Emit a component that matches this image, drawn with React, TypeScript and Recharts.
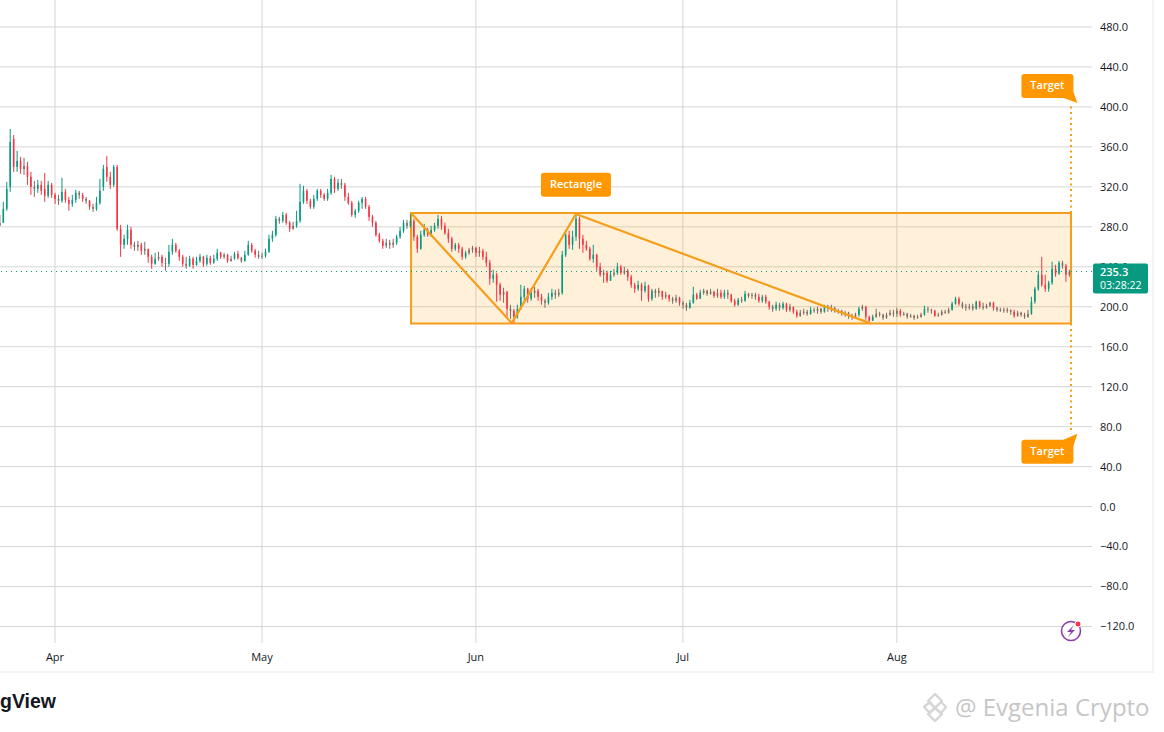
import React from 'react';
import {
  ComposedChart,
  Bar,
  XAxis,
  YAxis,
  CartesianGrid,
  ReferenceArea,
  ReferenceLine,
  ReferenceDot,
} from 'recharts';

// 12h candles, first one sits 8 days before Apr 1
const opens = [
  281, 284, 298, 320, 368, 340, 346, 338, 341, 330,
  320, 318, 322, 318, 311, 322, 312, 308, 306, 315,
  307, 303, 307, 314, 312, 308, 306, 300, 298, 304,
  320, 340, 330, 322, 340, 278, 262, 268, 277, 262,
  260, 262, 256, 258, 250, 243, 248, 250, 244, 243,
  255, 262, 256, 250, 243, 241, 248, 242, 246, 250,
  243, 249, 244, 248, 254, 250, 252, 246, 248, 253,
  249, 246, 252, 262, 256, 252, 250, 251, 255, 268,
  272, 288, 286, 292, 284, 278, 281, 286, 305, 316,
  306, 300, 308, 316, 312, 308, 314, 328, 318, 324,
  322, 310, 304, 292, 296, 304, 308, 300, 290, 284,
  272, 266, 261, 264, 262, 264, 270, 276, 284, 281,
  286, 270, 258, 272, 277, 272, 277, 281, 288, 281,
  274, 268, 258, 262, 258, 250, 254, 257, 259, 254,
  256, 250, 244, 228, 232, 222, 212, 215, 198, 196,
  190, 198, 210, 218, 208, 214, 216, 210, 206, 204,
  210, 214, 212, 214, 252, 272, 262, 270, 288, 268,
  262, 258, 248, 252, 240, 232, 234, 226, 232, 234,
  240, 234, 236, 230, 222, 218, 222, 216, 221, 208,
  216, 214, 216, 210, 212, 208, 206, 209, 204, 202,
  199, 204, 212, 208, 214, 216, 213, 215, 211, 214,
  210, 214, 212, 206, 202, 207, 206, 213, 211, 212,
  210, 206, 210, 205, 200, 198, 202, 199, 203, 197,
  200, 195, 191, 194, 195, 193, 197, 196, 198, 195,
  200, 198, 199, 196, 196, 193, 194, 191, 190, 192,
  198, 200, 190, 186, 190, 193, 192, 189, 192, 194,
  193, 196, 192, 193, 190, 191, 189, 190, 192, 198,
  197, 196, 191, 192, 195, 194, 197, 203, 208, 203,
  200, 199, 200, 198, 205, 200, 199, 201, 204, 199,
  197, 197, 196, 197, 195, 191, 194, 192, 190, 193,
  205, 218, 232, 222, 218, 224, 238, 233, 244, 241, 232,
];
const highs = [
  292, 305, 325, 378, 372, 356, 350, 349, 345, 335,
  326, 327, 326, 334, 326, 324, 314, 312, 329, 318,
  310, 312, 317, 316, 314, 310, 307, 303, 310, 328,
  342, 351, 335, 342, 342, 282, 272, 282, 280, 265,
  266, 264, 265, 258, 252, 254, 255, 252, 249, 262,
  268, 264, 258, 252, 250, 251, 250, 250, 253, 251,
  252, 251, 252, 258, 255, 254, 253, 251, 255, 256,
  250, 256, 266, 264, 258, 256, 254, 258, 272, 276,
  291, 290, 295, 294, 286, 285, 296, 323, 321, 318,
  308, 312, 318, 318, 314, 318, 332, 330, 328, 328,
  324, 314, 306, 298, 306, 310, 310, 302, 292, 286,
  274, 268, 268, 267, 268, 272, 280, 287, 287, 293,
  288, 272, 276, 283, 279, 281, 284, 292, 291, 284,
  278, 270, 264, 264, 260, 256, 259, 261, 260, 260,
  258, 255, 247, 237, 234, 224, 219, 216, 202, 198,
  202, 222, 221, 219, 219, 220, 218, 213, 208, 214,
  218, 217, 218, 256, 277, 276, 276, 293, 290, 272,
  266, 260, 262, 253, 244, 237, 236, 236, 238, 244,
  242, 240, 238, 232, 224, 226, 224, 225, 222, 218,
  218, 219, 215, 215, 212, 210, 212, 210, 206, 204,
  207, 220, 214, 217, 218, 217, 218, 216, 218, 217,
  217, 217, 213, 208, 209, 210, 216, 214, 214, 214,
  213, 212, 212, 206, 202, 205, 204, 205, 204, 203,
  200, 197, 197, 198, 197, 200, 199, 200, 199, 202,
  202, 202, 200, 198, 197, 196, 195, 193, 194, 200,
  202, 201, 191, 192, 198, 195, 193, 194, 197, 197,
  199, 198, 195, 194, 193, 192, 192, 194, 201, 200,
  198, 197, 194, 197, 197, 199, 205, 210, 210, 205,
  203, 203, 203, 206, 206, 204, 203, 205, 205, 200,
  199, 199, 199, 197, 197, 196, 195, 194, 197, 210,
  220, 236, 250, 232, 226, 245, 242, 246, 246, 243, 237,
];
const lows = [
  281, 284, 296, 315, 335, 335, 333, 332, 322, 312,
  310, 314, 312, 305, 309, 309, 303, 302, 304, 304,
  296, 300, 304, 308, 305, 303, 297, 295, 296, 302,
  316, 325, 318, 320, 276, 250, 258, 262, 258, 256,
  256, 252, 252, 244, 238, 242, 246, 240, 236, 240,
  252, 254, 246, 240, 238, 240, 238, 241, 244, 240,
  241, 242, 243, 246, 248, 248, 244, 245, 247, 247,
  244, 245, 251, 254, 249, 248, 248, 249, 254, 265,
  270, 283, 284, 282, 275, 277, 279, 284, 303, 303,
  298, 298, 306, 309, 306, 306, 312, 314, 316, 318,
  306, 302, 290, 289, 294, 298, 298, 286, 280, 270,
  264, 258, 259, 258, 259, 262, 268, 274, 278, 279,
  266, 254, 257, 270, 270, 270, 275, 278, 277, 272,
  264, 255, 256, 254, 247, 248, 252, 254, 250, 250,
  247, 240, 222, 224, 205, 206, 204, 190, 188, 184,
  188, 197, 206, 204, 206, 209, 206, 202, 199, 202,
  207, 208, 210, 212, 250, 258, 257, 266, 258, 254,
  256, 246, 244, 236, 230, 224, 224, 226, 230, 232,
  232, 232, 226, 219, 214, 216, 206, 214, 205, 206,
  209, 210, 207, 208, 205, 203, 204, 201, 198, 196,
  198, 203, 207, 208, 212, 211, 212, 209, 209, 208,
  208, 208, 204, 200, 201, 204, 205, 209, 208, 207,
  204, 204, 203, 197, 195, 196, 196, 197, 195, 195,
  193, 189, 190, 192, 191, 192, 194, 193, 193, 194,
  195, 195, 194, 193, 191, 190, 188, 187, 189, 190,
  196, 187, 185, 186, 189, 190, 187, 188, 191, 190,
  190, 190, 191, 188, 189, 187, 188, 189, 191, 194,
  193, 190, 190, 191, 193, 193, 196, 202, 201, 198,
  196, 197, 196, 197, 198, 197, 198, 200, 196, 195,
  195, 194, 194, 192, 189, 190, 190, 188, 189, 192,
  203, 216, 220, 215, 215, 222, 230, 232, 238, 225, 230,
];
const closes = [
  284, 298, 318, 365, 340, 346, 338, 341, 330, 320,
  318, 322, 316, 311, 322, 312, 308, 306, 315, 307,
  303, 307, 314, 312, 308, 306, 300, 298, 304, 316,
  338, 330, 322, 340, 278, 262, 268, 277, 262, 260,
  262, 256, 258, 250, 243, 248, 250, 244, 243, 255,
  262, 256, 250, 243, 241, 248, 242, 246, 250, 243,
  249, 244, 248, 254, 250, 252, 246, 248, 253, 249,
  246, 252, 262, 256, 252, 250, 251, 255, 268, 272,
  288, 286, 292, 284, 278, 281, 286, 305, 316, 306,
  300, 308, 316, 312, 308, 314, 328, 318, 324, 322,
  310, 304, 292, 296, 304, 308, 300, 290, 284, 272,
  266, 261, 264, 262, 264, 270, 276, 284, 281, 286,
  270, 258, 272, 277, 272, 277, 281, 288, 281, 274,
  268, 258, 262, 258, 250, 254, 257, 259, 254, 256,
  250, 244, 228, 232, 222, 212, 215, 198, 196, 190,
  198, 210, 218, 208, 214, 216, 210, 206, 204, 210,
  214, 212, 214, 252, 272, 262, 270, 288, 268, 262,
  258, 248, 252, 240, 232, 234, 226, 232, 234, 240,
  234, 236, 230, 222, 218, 222, 216, 221, 208, 216,
  214, 216, 210, 212, 208, 206, 209, 204, 202, 199,
  204, 212, 208, 214, 216, 213, 215, 211, 214, 210,
  214, 212, 206, 202, 207, 206, 213, 211, 212, 210,
  206, 210, 205, 200, 198, 202, 199, 203, 197, 200,
  195, 191, 194, 195, 193, 197, 196, 198, 195, 200,
  198, 199, 196, 196, 193, 194, 191, 190, 192, 198,
  200, 190, 186, 190, 193, 192, 189, 192, 194, 193,
  196, 192, 193, 190, 191, 189, 190, 192, 198, 197,
  196, 191, 192, 195, 194, 197, 203, 208, 203, 200,
  199, 200, 198, 205, 200, 199, 201, 204, 199, 197,
  197, 196, 197, 195, 191, 194, 192, 190, 193, 205,
  218, 232, 222, 218, 224, 238, 233, 244, 241, 232, 235.3,
];

const monthDays = [0, 30, 61, 91, 122];
const monthNames = ['Apr', 'May', 'Jun', 'Jul', 'Aug'];
const priceTicks = [-120, -80, -40, 0, 40, 80, 120, 160, 200, 240, 280, 320, 360, 400, 440, 480];

const lastPrice = 235.3;
const countdown = '03:28:22';

const rectLeft = 51.6;
const rectRight = 147.25;
const rectTop = 293.8;
const rectBottom = 183.3;

// zigzag drawn over the range
const zigzagDays = [51.6, 66.2, 75.5, 118.1];
const zigzagPrices = [293.8, 183.6, 292.8, 183.6];

const targetUp = 404;
const targetDown = 73;

const ORANGE = '#f59e1b';
const LABEL_ORANGE = '#ff9800';
const UP = '#089981';
const DOWN = '#f23645';
const MIXED = '#7d6a62';
const AXIS_FONT = '"Open Sans", "Noto Sans", sans-serif';

const data = closes.map((close, i) => ({
  day: -8 + i / 2,
  open: opens[i],
  close,
  high: highs[i],
  low: lows[i],
  range: [lows[i], highs[i]],
}));

const Candle = (props: any) => {
  const { x, y, width, height, payload } = props;
  const h = Math.abs(height);
  const top = Math.min(y, y + height);
  const k = h / (payload.high - payload.low || 1);
  const move = payload.close - payload.open;
  // at this zoom small bodies blur into a brown-grey
  const color = Math.abs(move) < 4 ? MIXED : move > 0 ? UP : DOWN;
  const bodyTop = top + (payload.high - Math.max(payload.open, payload.close)) * k;
  const bodyH = Math.max(1, Math.abs(move) * k);
  const mid = x + width / 2;
  return (
    <g>
      <line x1={mid} x2={mid} y1={top} y2={top + h} stroke={color} strokeWidth={1} />
      <rect x={x} y={bodyTop} width={width} height={bodyH} fill={color} />
    </g>
  );
};

const formatPrice = (v: number) => (v < 0 ? '\u2212' + Math.abs(v).toFixed(1) : v.toFixed(1));

// orange callout box: the dot is the anchor, tail goes to the arrow tip when given
const callout = (text: string, w: number, tail?: 'up' | 'down') => (props: any) => {
  const { cx, cy } = props;
  const hw = w / 2;
  return (
    <g>
      {tail === 'down' && <path d={`M${cx + hw - 10} ${cy + 12} L${cx + hw + 4} ${cy + 17} L${cx + hw} ${cy + 6} Z`} fill={LABEL_ORANGE} />}
      {tail === 'up' && <path d={`M${cx + hw - 10} ${cy - 12} L${cx + hw + 4} ${cy - 18} L${cx + hw} ${cy - 6} Z`} fill={LABEL_ORANGE} />}
      <rect x={cx - hw} y={cy - 12} width={w} height={24} rx={3} fill={LABEL_ORANGE} />
      <text x={cx} y={cy + 3} textAnchor="middle" fontSize={11} fontWeight={600} fontFamily={AXIS_FONT} fill="#fff">
        {text}
      </text>
    </g>
  );
};

const PriceBadge = (props: any) => {
  const { cx, cy } = props;
  return (
    <g>
      <rect x={cx + 1} y={cy - 8} width={55} height={30} rx={2} fill={UP} />
      <text x={cx + 8} y={cy + 5} fontSize={11} fontWeight={600} fontFamily={AXIS_FONT} fill="#fff">
        {lastPrice.toFixed(1)}
      </text>
      <text x={cx + 8} y={cy + 18} fontSize={10.5} fontFamily={AXIS_FONT} fill="#fff">
        {countdown}
      </text>
    </g>
  );
};

export default function App() {
  return (
    <div style={{ position: 'absolute', left: 0, top: 0, width: 1164, height: 732, background: '#fff', overflow: 'hidden' }}>
      <div style={{ position: 'absolute', left: 0, top: 0, width: 1152, height: 671, borderRight: '2px solid #f2f3f3', borderBottom: '2px solid #f2f3f3' }} />
      <ComposedChart
        width={1164}
        height={672}
        data={data}
        margin={{ top: 0, right: 0, bottom: 0, left: 0 }}
        style={{ position: 'absolute', left: 0, top: 0 }}
      >
        <CartesianGrid stroke="#d6d6d6" strokeWidth={1} syncWithTicks />
        <XAxis
          dataKey="day"
          type="number"
          scale="linear"
          domain={[-7.97, 150.29]}
          allowDataOverflow
          ticks={monthDays}
          tickFormatter={(d: number) => monthNames[monthDays.indexOf(d)]}
          tick={{ fontSize: 11, fill: '#131722', fontFamily: AXIS_FONT, dy: 2 }}
          tickLine={false}
          axisLine={false}
          height={29}
          interval={0}
        />
        <YAxis
          orientation="right"
          type="number"
          domain={[-136.5, 507]}
          allowDataOverflow
          ticks={priceTicks}
          tickFormatter={formatPrice}
          tick={{ fontSize: 11, fill: '#131722', fontFamily: AXIS_FONT }}
          tickLine={false}
          axisLine={false}
          width={72}
          interval={0}
        />
        <ReferenceLine y={lastPrice} stroke={UP} strokeDasharray="1 4" strokeWidth={1} />
        <ReferenceArea
          x1={rectLeft}
          x2={rectRight}
          y1={rectBottom}
          y2={rectTop}
          fill="#ff9800"
          fillOpacity={0.15}
          stroke={ORANGE}
          strokeWidth={2}
        />
        <Bar dataKey="range" barSize={1.6} shape={<Candle />} isAnimationActive={false} />
        {zigzagDays.slice(1).map((d, i) => (
          <ReferenceLine
            key={d}
            segment={[
              { x: zigzagDays[i], y: zigzagPrices[i] },
              { x: d, y: zigzagPrices[i + 1] },
            ]}
            stroke={ORANGE}
            strokeWidth={2.2}
          />
        ))}
        <ReferenceLine
          segment={[
            { x: rectRight, y: rectTop },
            { x: rectRight, y: targetUp },
          ]}
          stroke={ORANGE}
          strokeWidth={2}
          strokeDasharray="2 3.5"
        />
        <ReferenceLine
          segment={[
            { x: rectRight, y: rectBottom },
            { x: rectRight, y: targetDown },
          ]}
          stroke={ORANGE}
          strokeWidth={2}
          strokeDasharray="2 3.5"
        />
        <ReferenceDot x={143.83} y={421} ifOverflow="visible" shape={callout('Target', 52, 'down')} />
        <ReferenceDot x={143.83} y={55} ifOverflow="visible" shape={callout('Target', 52, 'up')} />
        <ReferenceDot x={75.5} y={322} ifOverflow="visible" shape={callout('Rectangle', 70)} />
        <ReferenceDot x={150.29} y={lastPrice} ifOverflow="visible" zIndex={2500} shape={<PriceBadge />} />
      </ComposedChart>
      <svg width={1164} height={732} style={{ position: 'absolute', left: 0, top: 0, pointerEvents: 'none' }}>
        <circle cx={1071} cy={631} r={9.5} fill="#fff" stroke="#8e3ea8" strokeWidth={1.6} />
        <path d="M1074 625 L1067 632 L1071 632 L1068 637 L1075 630 L1071 630 Z" fill="#8e3ea8" />
        <circle cx={1078} cy={624} r={3} fill="#f23645" stroke="#fff" strokeWidth={1} />
        <text x={0} y={708} fontSize={19.5} fontWeight={700} fontFamily='"Liberation Sans", sans-serif' fill="#131722">
          gView
        </text>
        <g fill="none" stroke="#d6d6d6" strokeWidth={2.4} strokeLinejoin="round">
          <path d="M935 694 L942 701 L935 708 L928 701 Z" />
          <path d="M924 707 L930 702 L935 708 L930 713 Z" />
          <path d="M946 707 L941 702 L935 708 L941 713 Z" />
          <path d="M928 714 L935 721 L942 714 L935 708 Z" />
        </g>
        <text x={955} y={716} fontSize={24} fontFamily='"Open Sans", sans-serif' fill="#c6c6c6">
          @ Evgenia Crypto
        </text>
      </svg>
    </div>
  );
}
